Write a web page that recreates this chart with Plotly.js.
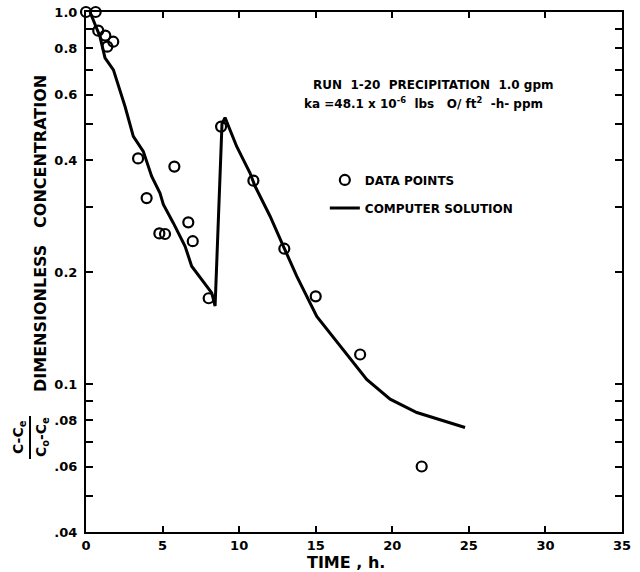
<!DOCTYPE html>
<html>
<head>
<meta charset="utf-8">
<script src="https://cdn.plot.ly/plotly-3.0.1.min.js"></script>
<style>html,body{margin:0;padding:0;background:#fff;}#chart{width:640px;height:572px;}</style>
</head>
<body>
<div id="chart"></div>
<script>
// Measured data points (time in h, dimensionless concentration)
var timePts = [0, 0.63, 0.8, 1.26, 1.39, 1.78, 3.40, 3.96, 4.79, 5.16, 5.77, 6.68, 6.97, 8.01, 8.82, 10.93, 12.95, 15.0, 17.9, 21.92];
var concPts = [1.0, 1.0, 0.891, 0.864, 0.807, 0.832, 0.404, 0.316, 0.254, 0.253, 0.384, 0.272, 0.242, 0.170, 0.492, 0.352, 0.231, 0.172, 0.120, 0.060];

// Computer solution curve
var timeSol = [0.26, 0.91, 1.24, 1.79, 2.55, 3.09, 3.74, 4.29, 4.83, 5.05, 5.70, 6.47, 6.90, 7.66, 8.21, 8.43, 8.88, 9.08, 9.84, 10.27, 10.71, 11.04, 12.02, 12.89, 13.76, 15.07, 16.70, 17.5, 18.33, 19.86, 21.6, 24.75];
var concSol = [1.0, 0.859, 0.753, 0.699, 0.557, 0.463, 0.422, 0.3615, 0.326, 0.304, 0.271, 0.2346, 0.2073, 0.189, 0.1758, 0.162, 0.50, 0.52, 0.435, 0.401, 0.369, 0.34, 0.2825, 0.2345, 0.195, 0.152, 0.1252, 0.113, 0.1029, 0.091, 0.0838, 0.0764];

// Axis ticks
var xTickVals = [0, 5, 10, 15, 20, 25, 30, 35];
var yTickVals = [0.04, 0.05, 0.06, 0.07, 0.08, 0.09, 0.1, 0.2, 0.3, 0.4, 0.5, 0.6, 0.7, 0.8, 0.9, 1.0];
var yTickText = [".04", "", ".06", "", ".08", "", "0.1", "0.2", "", "0.4", "", "0.6", "", "0.8", "", "1.0"];

var FONT = "DejaVu Sans, Verdana, sans-serif";

var traces = [
  {
    x: timeSol, y: concSol, mode: 'lines', name: 'COMPUTER SOLUTION',
    line: {color: '#000', width: 3}, legend: 'legend2', cliponaxis: false
  },
  {
    x: timePts, y: concPts, mode: 'markers', name: 'DATA POINTS',
    marker: {symbol: 'circle-open', size: 10, color: '#000', line: {width: 2.2, color: '#000'}},
    legend: 'legend', cliponaxis: false
  }
];

var layout = {
  width: 640, height: 572,
  margin: {l: 86, r: 18, t: 12, b: 40},
  paper_bgcolor: '#fff', plot_bgcolor: '#fff',
  font: {family: FONT, color: '#000', size: 12, weight: 'bold'},
  showlegend: true,
  legend: {x: 0.4456, y: 0.677, xanchor: 'left', yanchor: 'middle', bgcolor: 'rgba(0,0,0,0)',
           font: {family: FONT, size: 12, weight: 'bold', color: '#000'}},
  legend2: {x: 0.4456, y: 0.623, xanchor: 'left', yanchor: 'middle', bgcolor: 'rgba(0,0,0,0)',
           font: {family: FONT, size: 12, weight: 'bold', color: '#000'}},
  xaxis: {
    range: [0, 35], tickmode: 'array', tickvals: xTickVals,
    ticks: 'inside', ticklen: 6, tickwidth: 2, tickcolor: '#000',
    showline: true, linewidth: 2, linecolor: '#000', mirror: 'ticks',
    showgrid: false, zeroline: false,
    tickfont: {family: FONT, size: 13, weight: 'bold', color: '#000'}
  },
  yaxis: {
    type: 'log', range: [Math.log10(0.04), 0],
    tickmode: 'array', tickvals: yTickVals, ticktext: yTickText,
    ticks: 'inside', ticklen: 7, tickwidth: 2, tickcolor: '#000',
    showline: true, linewidth: 2, linecolor: '#000', mirror: 'ticks',
    showgrid: false, zeroline: false, ticklabelstandoff: 4,
    tickfont: {family: FONT, size: 13, weight: 'bold', color: '#000'}
  },
  annotations: [
    {xref: 'paper', yref: 'paper', x: (346 - 86) / 536, y: (532 - 562) / 520, xanchor: 'center', yanchor: 'middle',
     text: 'TIME , h.', showarrow: false, font: {family: FONT, size: 16, weight: 'bold', color: '#000'}},
    {xref: 'paper', yref: 'paper', x: (40 - 86) / 536, y: (532 - 234) / 520, xanchor: 'center', yanchor: 'middle',
     text: 'DIMENSIONLESS   CONCENTRATION', textangle: -90, showarrow: false,
     font: {family: FONT, size: 16, weight: 'bold', color: '#000'}},
    {xref: 'paper', yref: 'paper', x: (19 - 86) / 536, y: (532 - 437) / 520, xanchor: 'center', yanchor: 'middle',
     text: 'C-C<sub>e</sub>', textangle: -90, showarrow: false,
     font: {family: FONT, size: 14, weight: 'bold', color: '#000'}},
    {xref: 'paper', yref: 'paper', x: (42 - 86) / 536, y: (532 - 437) / 520, xanchor: 'center', yanchor: 'middle',
     text: 'C<sub>o</sub>-C<sub>e</sub>', textangle: -90, showarrow: false,
     font: {family: FONT, size: 14, weight: 'bold', color: '#000'}},
    {xref: 'paper', yref: 'paper', x: (433 - 86) / 536, y: (532 - 85) / 520, xanchor: 'center', yanchor: 'middle',
     text: 'RUN  1-20  PRECIPITATION  1.0 gpm', showarrow: false,
     font: {family: FONT, size: 12, weight: 'bold', color: '#000'}},
    {xref: 'paper', yref: 'paper', x: (423 - 86) / 536, y: (532 - 103) / 520, xanchor: 'center', yanchor: 'middle',
     text: 'ka =48.1 x 10<sup>-6</sup>  lbs   O/ ft<sup>2</sup>  -h- ppm', showarrow: false,
     font: {family: FONT, size: 12, weight: 'bold', color: '#000'}}
  ],
  shapes: [
    {type: 'line', xref: 'paper', yref: 'paper', x0: (30 - 86) / 536, x1: (30 - 86) / 536,
     y0: (532 - 416) / 520, y1: (532 - 459) / 520, line: {color: '#000', width: 2}}
  ]
};

Plotly.newPlot('chart', traces, layout, {displayModeBar: false, staticPlot: true});
</script>
</body>
</html>
